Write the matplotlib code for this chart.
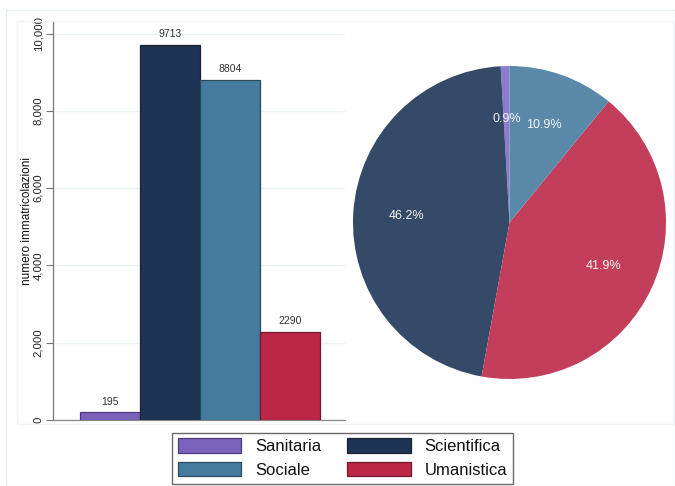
import matplotlib
matplotlib.use("Agg")
import matplotlib.pyplot as plt
from matplotlib.patches import Patch, Rectangle
from matplotlib.ticker import FuncFormatter

plt.rcParams['font.family'] = ['Liberation Sans', 'DejaVu Sans']

# Enrolments by area (bar chart)
categories = ["Sanitaria", "Scientifica", "Sociale", "Umanistica"]
enrolments = [195, 9713, 8804, 2290]

# Share by area (pie chart), in drawing order
pie_labels = ["Sanitaria", "Scientifica", "Umanistica", "Sociale"]
pie_shares = [0.9, 46.2, 41.9, 10.9]

y_ticks = [0, 2000, 4000, 6000, 8000, 10000]

bar_colors = {"Sanitaria": "#7a62bd", "Scientifica": "#1e3454",
              "Sociale": "#457b9d", "Umanistica": "#bc2748"}
bar_edges = {"Sanitaria": "#4b3d7a", "Scientifica": "#1a2233",
             "Sociale": "#2c4a5e", "Umanistica": "#6e1a2c"}
pie_colors = {"Sanitaria": "#8f7bce", "Scientifica": "#344a68",
              "Sociale": "#5a89a9", "Umanistica": "#c23e5b"}

W, H = 675, 486
fig = plt.figure(figsize=(W / 100, H / 100), dpi=100)
fig.patch.set_facecolor("white")

# light frames around the graph region
fig.add_artist(Rectangle((6 / W, 0), (W - 6) / W, (H - 10) / H,
                         transform=fig.transFigure, fill=False,
                         edgecolor="#e6eef0", lw=1.0))
fig.add_artist(Rectangle((17 / W, 1 - 424 / H), (673 - 17) / W, (424 - 21) / H,
                         transform=fig.transFigure, fill=False,
                         edgecolor="#f0f3f4", lw=1.0))

# ---- bar chart ----
ax = fig.add_axes([53 / W, 1 - 420 / H, (345 - 53) / W, (420 - 22) / H])
ax.set_facecolor("none")
xs = list(range(len(categories)))
bars = ax.bar(xs, enrolments, width=1.0,
              color=[bar_colors[c] for c in categories],
              edgecolor=[bar_edges[c] for c in categories], linewidth=0.9,
              zorder=3)
for x, v in zip(xs, enrolments):
    ax.annotate(f"{v}", (x, v), xytext=(0, 4), textcoords="offset points",
                ha="center", va="bottom", fontsize=7.5, color="#333333")

ax.set_xlim(-0.95, 3.92)
ax.set_ylim(0, 10300)
ax.set_yticks(y_ticks)
ax.yaxis.set_major_formatter(FuncFormatter(lambda v, p: f"{int(v):,}"))
ax.tick_params(axis="y", labelsize=8.2, labelcolor="#222222", color="#777777",
               length=5, width=0.8, rotation=90, pad=2)
for lbl in ax.get_yticklabels():
    lbl.set_va("center")
ax.set_xticks([])
ax.grid(axis="y", color="#eaf2f3", lw=1.0, zorder=0)
ax.spines["top"].set_visible(False)
ax.spines["right"].set_visible(False)
ax.spines["left"].set_color("#777777")
ax.spines["bottom"].set_color("#888888")
ax.spines["left"].set_linewidth(0.9)
ax.spines["bottom"].set_linewidth(0.9)
ax.set_ylabel("numero immatricolazioni", fontsize=8.5, color="#111111",
              labelpad=0)

# ---- pie chart ----
cx, cy, r = 509.5, 222.5, 156.5
pax = fig.add_axes([(cx - r) / W, 1 - (cy + r) / H, 2 * r / W, 2 * r / H])
wedges, texts, autotexts = pax.pie(
    pie_shares, colors=[pie_colors[c] for c in pie_labels],
    startangle=90, counterclock=True, radius=1.0,
    autopct=lambda p: f"{p:.1f}%", pctdistance=0.66,
    wedgeprops=dict(linewidth=0),
    textprops=dict(color="#f4f4f4", fontsize=9))
pax.set_xlim(-1, 1)
pax.set_ylim(-1, 1)
pax.set_aspect("auto")
pax.axis("off")

# ---- legend ----
order = ["Sanitaria", "Sociale", "Scientifica", "Umanistica"]
handles = [Patch(facecolor=bar_colors[c], edgecolor=bar_edges[c], lw=0.9)
           for c in order]
leg = fig.legend(handles, order, loc="center",
                 bbox_to_anchor=(342.5 / W, 1 - 458 / H), ncol=2,
                 fontsize=12, frameon=True, fancybox=False,
                 edgecolor="#444444", handlelength=3.8, handleheight=0.95,
                 handletextpad=0.85, columnspacing=1.55, labelspacing=0.45,
                 borderpad=0.35, borderaxespad=0)
leg.get_frame().set_linewidth(1.0)
for t in leg.get_texts():
    t.set_color("#111111")

fig.savefig("out.png", dpi=100, facecolor="white")
